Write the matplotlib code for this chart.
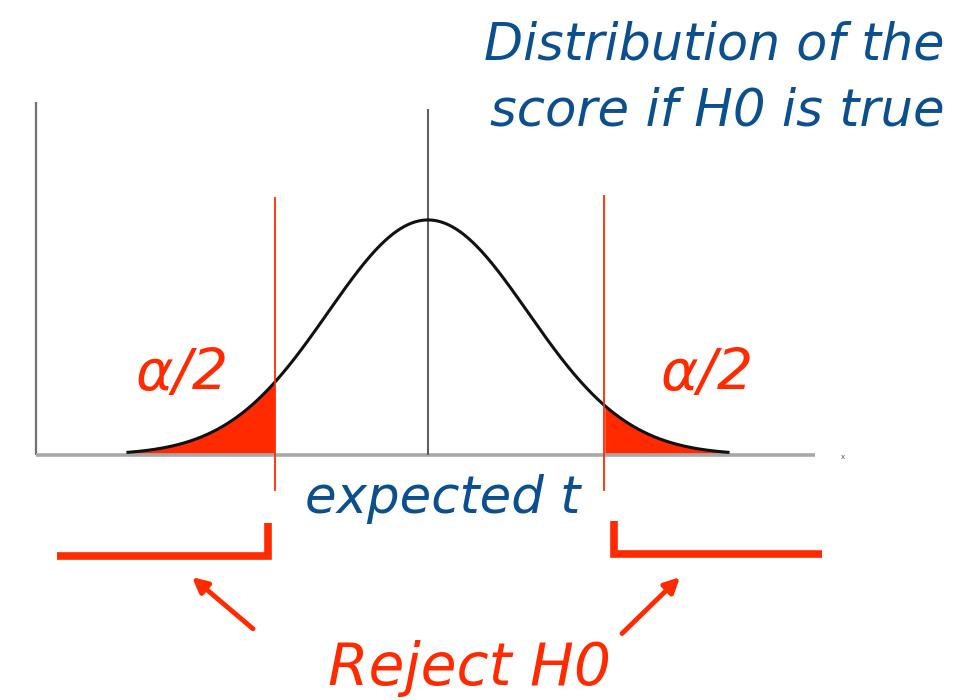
import numpy as np
import matplotlib.pyplot as plt

# two-tailed test sketch: standard normal with shaded rejection tails
z_left = -1.53          # lower critical value
z_right = 1.76          # upper critical value
z_span = (-3.0, 3.0)    # range of the drawn curve

red = "#ff2a00"
blue = "#0b4f8f"

fig = plt.figure(figsize=(9.77, 7.0), dpi=100)
ax = fig.add_axes([0, 0, 1, 1])
# x in standard deviations, y as density relative to the peak
ax.set_xlim(-4.28, 5.49)
ax.set_ylim(-1.043, 1.936)
ax.axis("off")

z = np.linspace(z_span[0], z_span[1], 600)
h = np.exp(-z ** 2 / 2)

# axes of the sketch
ax.plot([-3.92, -3.92], [0, 1.50], color="#707070", lw=1.6, solid_capstyle="butt")
ax.plot([-3.92, 3.87], [0, 0], color="#a8a8a8", lw=2.6, solid_capstyle="butt")
ax.plot([0, 0], [0, 1.47], color="#606060", lw=1.5, solid_capstyle="butt")
ax.text(4.15, -0.01, "x", fontsize=5, color="#555555", ha="center", va="center")

# rejection regions
lo = z <= z_left
hi = z >= z_right
ax.fill_between(z[lo], 0, h[lo], color=red, lw=0)
ax.fill_between(z[hi], 0, h[hi], color=red, lw=0)
ax.plot(z, h, color="#111111", lw=2.2)

# critical value markers
ax.plot([z_left, z_left], [-0.15, 1.095], color=red, lw=1.3)
ax.plot([z_right, z_right], [-0.15, 1.10], color=red, lw=1.3)

# rejection brackets
ax.plot([-3.71, -1.60, -1.60], [-0.43, -0.43, -0.29], color=red, lw=5.5,
         solid_joinstyle="miter", solid_capstyle="butt")
ax.plot([1.86, 1.86, 3.94], [-0.28, -0.42, -0.42], color=red, lw=5.5,
         solid_joinstyle="miter", solid_capstyle="butt")

arrow = dict(arrowstyle="-|>,head_length=0.9,head_width=0.45", color=red, lw=3.5,
             shrinkA=0, shrinkB=0)
ax.annotate("", xy=(-2.36, -0.52), xytext=(-1.75, -0.74), arrowprops=arrow)
ax.annotate("", xy=(2.52, -0.52), xytext=(1.94, -0.76), arrowprops=arrow)

# labels
txt = dict(family="DejaVu Sans", style="oblique", va="baseline")
ax.text(-2.46, 0.277, "α/2", color=red, fontsize=41, ha="center", **txt)
ax.text(2.79, 0.277, "α/2", color=red, fontsize=41, ha="center", **txt)
ax.text(0.15, -0.247, "expected t", color=blue, fontsize=37, ha="center", **txt)
ax.text(0.41, -0.979, "Reject H0", color=red, fontsize=42, ha="center", **txt)
ax.text(5.17, 1.681, "Distribution of the", color=blue, fontsize=36.5, ha="right", **txt)
ax.text(5.17, 1.404, "score if H0 is true", color=blue, fontsize=37, ha="right", **txt)

fig.savefig("out.png", dpi=100)
